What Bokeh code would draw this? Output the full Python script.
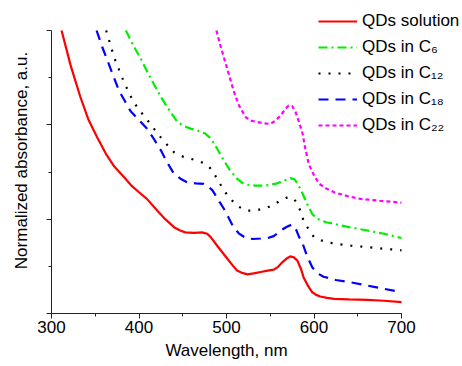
from bokeh.plotting import figure
from bokeh.models import Legend, LegendItem, FixedTicker, Range1d, LinearAxis
from bokeh.embed import file_html
from bokeh.resources import INLINE

# ---- data ----
wl_sol = [311.5, 322, 333, 342, 352, 362, 372, 383, 392, 400, 409, 421, 430, 440, 447, 453, 463, 472, 478, 482, 490, 501, 507, 512, 518, 524, 531, 539, 547, 554, 559, 564, 569, 573, 577, 581, 585, 588, 593, 598, 602, 607, 615, 623, 640, 661, 680, 700]
ab_sol = [6.00, 5.25, 4.59, 4.12, 3.74, 3.39, 3.11, 2.89, 2.70, 2.57, 2.43, 2.18, 2.00, 1.83, 1.76, 1.72, 1.71, 1.72, 1.69, 1.62, 1.42, 1.16, 1.02, 0.91, 0.86, 0.83, 0.85, 0.88, 0.91, 0.93, 0.99, 1.09, 1.17, 1.21, 1.19, 1.12, 0.95, 0.77, 0.59, 0.45, 0.40, 0.36, 0.33, 0.31, 0.30, 0.29, 0.27, 0.24]

wl_c6 = [385, 393, 402, 413, 425, 435, 444, 452, 459, 467, 476, 481, 486, 491, 497, 504, 512, 518, 524, 533, 543, 550, 558, 566, 573, 578, 582, 587, 592, 598, 603, 608, 615, 623, 640, 661, 680, 700]
ab_c6 = [6.00, 5.70, 5.40, 5.00, 4.59, 4.30, 4.06, 3.97, 3.92, 3.88, 3.81, 3.73, 3.60, 3.44, 3.24, 3.04, 2.86, 2.77, 2.73, 2.71, 2.71, 2.73, 2.76, 2.82, 2.87, 2.84, 2.73, 2.54, 2.33, 2.11, 2.02, 1.97, 1.93, 1.90, 1.83, 1.76, 1.69, 1.60]

wl_c12 = [362.5, 368, 373, 383, 390, 398, 408, 417, 428, 440, 451, 463, 470, 476, 481, 486, 491, 497, 504, 512, 518, 524, 535, 547, 555, 562, 568, 573, 577, 581, 585, 588, 594, 600, 607, 615, 628, 642, 670, 700]
ab_c12 = [6.00, 5.65, 5.36, 4.90, 4.62, 4.37, 4.14, 3.92, 3.66, 3.42, 3.32, 3.26, 3.22, 3.17, 3.09, 2.96, 2.80, 2.61, 2.44, 2.29, 2.22, 2.18, 2.19, 2.25, 2.32, 2.40, 2.45, 2.47, 2.43, 2.33, 2.15, 1.97, 1.78, 1.62, 1.56, 1.51, 1.47, 1.44, 1.39, 1.34]

wl_c18 = [351.5, 358, 364, 371, 377, 384, 390, 400, 409, 417, 425, 432, 440, 448, 455, 465, 474, 479, 484, 490, 497, 503, 508, 514, 522, 530, 539, 547, 554, 562, 569, 574, 577, 580, 583, 587, 592, 598, 604, 611, 625, 642, 670, 700]
ab_c18 = [6.00, 5.65, 5.36, 5.02, 4.73, 4.50, 4.30, 4.10, 3.92, 3.70, 3.46, 3.21, 2.96, 2.85, 2.78, 2.76, 2.75, 2.70, 2.61, 2.43, 2.22, 2.01, 1.83, 1.70, 1.60, 1.58, 1.59, 1.60, 1.64, 1.76, 1.84, 1.88, 1.86, 1.76, 1.62, 1.48, 1.22, 0.98, 0.85, 0.78, 0.71, 0.66, 0.56, 0.45]

wl_c22 = [488.5, 492, 497, 503, 508, 514, 522, 528, 535, 543, 550, 556, 562, 567, 571, 575, 579, 583, 587, 590, 594, 600, 606, 614, 623, 638, 653, 675, 700]
ab_c22 = [6.00, 5.75, 5.43, 5.05, 4.73, 4.42, 4.16, 4.09, 4.06, 4.03, 4.02, 4.09, 4.20, 4.33, 4.41, 4.40, 4.27, 4.05, 3.81, 3.50, 3.17, 2.93, 2.75, 2.65, 2.57, 2.49, 2.43, 2.39, 2.35]

labels = ["QDs solution", "QDs in C\u2086", "QDs in C\u2081\u2082", "QDs in C\u2081\u2088", "QDs in C\u2082\u2082"]
x_ticks = [300, 400, 500, 600, 700]
x_minor = [350, 450, 550, 650]
y_major = [0, 2, 4, 6]
y_minor = [1, 3, 5]

FONT = "Liberation Sans"
W, H = 462, 366
# frame covers the whole canvas; axes are pinned with fixed_location
X0, X1, PX_X0, PX_X1 = 300, 700, 51, 401
Y0, Y1, PX_Y0, PX_Y1 = 0, 6, 313, 30
sx = (PX_X1 - PX_X0) / (X1 - X0)
sy = (PX_Y0 - PX_Y1) / (Y1 - Y0)

p = figure(width=W, height=H, output_backend="svg", toolbar_location=None,
           x_range=Range1d(X0 - PX_X0 / sx, X1 + (W - PX_X1) / sx),
           y_range=Range1d(Y0 - (H - PX_Y0) / sy, Y1 + PX_Y1 / sy),
           min_border=0, min_border_left=0, min_border_right=0,
           min_border_top=0, min_border_bottom=0)
p.outline_line_color = None
p.grid.grid_line_color = None
p.background_fill_color = "white"
p.border_fill_color = "white"

series = [
    (wl_sol, ab_sol, "#ff0000", "solid"),
    (wl_c6, ab_c6, "#00ee00", "9 4 2 4"),
    (wl_c12, ab_c12, "#000000", "2 8"),
    (wl_c18, ab_c18, "#0000ff", "10 7"),
    (wl_c22, ab_c22, "#ff00ff", "4 3"),
]
items = []
for (xs, ys, col, dash), lab in zip(series, labels):
    r = p.line(xs, ys, line_color=col, line_width=2.2, line_dash=dash)
    items.append(LegendItem(label=lab, renderers=[r]))

AX = "#222222"
# bottom axis
xa = p.xaxis[0]
xa.ticker = FixedTicker(ticks=x_ticks, minor_ticks=x_minor)
xa.bounds = (X0, X1)
xa.fixed_location = Y0
xa.axis_label = "Wavelength, nm"
xa.major_label_text_font_size = "17px"
xa.major_label_standoff = 2
xa.axis_label_standoff = 5

# left axis: line + long ticks
ya = p.yaxis[0]
ya.ticker = FixedTicker(ticks=[], minor_ticks=y_major)
ya.bounds = (Y0, Y1)
ya.fixed_location = X0

# left axis: short ticks + title
yb = LinearAxis(ticker=FixedTicker(ticks=[], minor_ticks=y_minor),
                bounds=(0.48, 6.0), fixed_location=X0,
                axis_label="Normalized absorbance, a.u.")
yb.axis_line_color = None
p.add_layout(yb, "left")

for ax in (xa, ya, yb):
    if ax is not yb:
        ax.axis_line_color = AX
    ax.axis_line_width = 1
    ax.major_tick_line_color = AX
    ax.minor_tick_line_color = AX
    ax.major_tick_in = 0
    ax.minor_tick_in = 0
    ax.axis_label_text_font = FONT
    ax.axis_label_text_font_style = "normal"
    ax.axis_label_text_font_size = "17px"
    ax.axis_label_text_color = "black"
    ax.major_label_text_font = FONT
    ax.major_label_text_color = "black"
xa.major_tick_out = 5
xa.minor_tick_out = 3
ya.major_tick_out = 0
ya.minor_tick_out = 5
yb.major_tick_out = 0
yb.minor_tick_out = 3
yb.major_label_standoff = 0
yb.axis_label_standoff = 18

legend = Legend(items=items, location=(318, 231), orientation="vertical",
                label_text_font=FONT, label_text_font_size="17px",
                label_text_color="black", glyph_width=39, glyph_height=20,
                label_height=20, label_standoff=5, spacing=6, padding=0,
                margin=0, border_line_color=None, background_fill_alpha=0)
p.add_layout(legend, "center")

open("out.html", "w").write(file_html(p, INLINE))
